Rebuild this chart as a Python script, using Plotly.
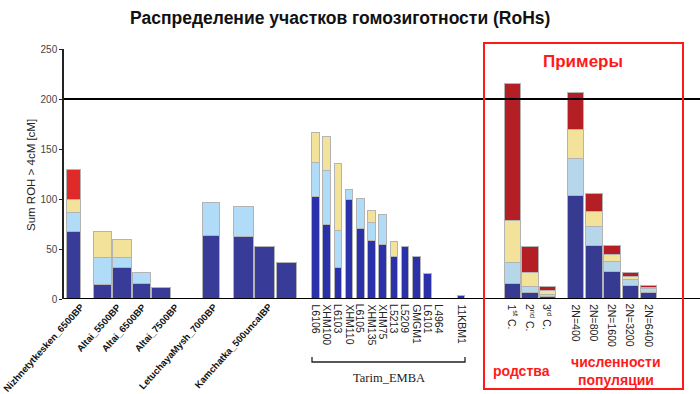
import plotly.graph_objects as go

# ---------------- data ----------------
left_names = ["Nizhnetytkesken_6500BP", "Altai_5500BP", "Altai_6500BP", "Altai_7500BP", "",
              "LetuchayaMysh_7000BP", "Kamchatka_500uncalBP", "", ""]
left_dark = [67, 14, 31, 15, 11, 63, 62, 52, 36]
left_light = [19, 27, 10, 11, 0, 33, 30, 0, 0]
left_yellow = [13, 26, 18, 0, 0, 0, 0, 0, 0]
left_red = [30, 0, 0, 0, 0, 0, 0, 0, 0]

tarim_names = ["L6106", "XHM100", "L6103", "XHM110", "L6105", "XHM135", "XHM75",
               "L5213", "L5209", "GMGM1", "L6101", "L4964", "11KBM1"]
tarim_dark = [102, 74, 31, 99, 70, 58, 54, 42, 52, 42, 25, 0, 3]
tarim_light = [34, 54, 37, 10, 30, 18, 30, 0, 0, 0, 0, 0, 0]
tarim_yellow = [30, 34, 67, 0, 0, 12, 0, 15, 0, 0, 0, 0, 0]

kin_names = ["1<sup>st</sup> C.", "2<sup>nd</sup> C.", "3<sup>rd</sup> C."]
kin_dark = [15, 6, 2]
kin_light = [21, 6, 2]
kin_yellow = [42, 14, 4]
kin_red = [137, 26, 4]

pop_names = ["2N=400", "2N=800", "2N=1600", "2N=3200", "2N=6400"]
pop_dark = [103, 53, 27, 13, 6]
pop_light = [37, 19, 10, 6, 4]
pop_yellow = [29, 15, 7, 3, 1]
pop_red = [37, 18, 9, 4, 2]

y_ticks = [0, 50, 100, 150, 200, 250]

# ---------------- layout helpers (x axis in pixel-like units 64..700) ----------------
X0, X1 = 64, 700
PT, PB = 49, 299  # plot top / bottom in px


def px_to_py(p):  # pixel y -> paper y
    return (PB - p) / (PB - PT)


def px_to_px(p):  # pixel x -> paper x
    return (p - X0) / (X1 - X0)


def slots(start, step, idx):
    return [start + step * i for i in idx]


left_x = slots(74, 0, [0]) + slots(103, 19.5, range(4)) + slots(211.5, 0, [0]) + slots(244, 21.3, range(3))
left_w = [14] + [18.5] * 4 + [17] + [20] * 3
tarim_x = slots(316, 11.2, list(range(12)) + [13])
tarim_w = [7.5] * len(tarim_x)
kin_x = slots(513, 17.5, range(3))
pop_x = slots(576, 18.3, range(5))
ex_w = [16.5] * 8

xs = left_x + tarim_x + kin_x + pop_x
ws = left_w + tarim_w + ex_w
nL, nT, nE = len(left_x), len(tarim_x), 8

dark = left_dark + tarim_dark + kin_dark + pop_dark
light = left_light + tarim_light + kin_light + pop_light
yellow = left_yellow + tarim_yellow + kin_yellow + pop_yellow
red = left_red + [0] * nT + kin_red + pop_red

dark_col = ["#383c98"] * nL + ["#2a31aa"] * nT + ["#363a90"] * nE
light_col = ["#b0dcf7"] * nL + ["#b0dcf7"] * nT + ["#b6d6e9"] * nE
yellow_col = ["#f3e39a"] * (nL + nT + nE)
red_col = ["#e02a2a"] * nL + ["#e02a2a"] * nT + ["#b31f25"] * nE


def nz(v):
    return [a if a else None for a in v]


fig = go.Figure()
for vals, cols in [(dark, dark_col), (light, light_col), (yellow, yellow_col), (red, red_col)]:
    fig.add_trace(go.Bar(x=xs, y=nz(vals), width=ws,
                         marker=dict(color=cols, line=dict(color="#b4b4b4", width=1)),
                         showlegend=False, hoverinfo="skip"))

shapes = []
# reference lines
for yv, lw in [(0, 2.2), (200, 2)]:
    shapes.append(dict(type="line", xref="paper", yref="y", x0=0, x1=1, y0=yv, y1=yv,
                       line=dict(color="black", width=lw)))
# Tarim bracket
bx0, bx1, by, byt = 312, 465, 362, 357
shapes.append(dict(type="path", xref="paper", yref="paper",
                   path=f"M {px_to_px(bx0)},{px_to_py(byt)} L {px_to_px(bx0)},{px_to_py(by)} "
                        f"L {px_to_px(bx1)},{px_to_py(by)} L {px_to_px(bx1)},{px_to_py(byt)}",
                   line=dict(color="#222", width=1.3)))
# red box
shapes.append(dict(type="rect", xref="paper", yref="paper",
                   x0=px_to_px(484), x1=px_to_px(683), y0=px_to_py(389), y1=px_to_py(43),
                   line=dict(color="#ff1a1a", width=2)))

ann = []


def txt(text, x, y, size, color="#222", family="Arial", angle=0, xa="center", ya="middle"):
    return dict(text=text, xref="paper", yref="paper", x=px_to_px(x), y=px_to_py(y),
                xanchor=xa, yanchor=ya, textangle=angle, showarrow=False,
                font=dict(family=family, size=size, color=color))


# left labels (diagonal)
left_label_end = [80, 117, 142, 175, None, 213, 268, None, None]
for name, xe in zip(left_names, left_label_end):
    if not name:
        continue
    ann.append(txt("<b>" + name + "</b>", xe + 9, 298, 9.5, color="#111", angle=-48,
                   xa="right", ya="top"))
# vertical labels
for name, x in zip(tarim_names + kin_names + pop_names, tarim_x + kin_x + pop_x):
    ann.append(txt(name, x, 302, 10.5, angle=90, ya="top"))
# group texts
ann += [
    txt("Tarim_EMBA", 389, 378, 12.5, family="Liberation Serif"),
    txt("<b>Примеры</b>", 583, 61, 17, color="#ff1a1a"),
    txt("<b>родства</b>", 521, 371, 14, color="#ff1a1a"),
    txt("<b>численности</b>", 616, 362, 14, color="#ff1a1a"),
    txt("<b>популяции</b>", 616, 380, 14, color="#ff1a1a"),
    txt("Sum ROH > 4cM [cM]", 31, 175, 11.5, angle=-90),
    txt("<b>Распределение участков гомозиготности (RoHs)</b>", 340, 18, 17.5, color="#111"),
]

fig.update_layout(
    width=700, height=394, barmode="stack", bargap=0,
    margin=dict(l=X0, r=700 - X1, t=PT, b=394 - PB, pad=0),
    paper_bgcolor="white", plot_bgcolor="white",
    xaxis=dict(range=[X0, X1], showgrid=False, zeroline=False, showticklabels=False,
               ticks="", showline=False, fixedrange=True),
    yaxis=dict(range=[0, 250], tickvals=y_ticks, showgrid=False, zeroline=False,
               showline=True, linecolor="#222", linewidth=1.5, ticks="outside", ticklen=3,
               tickcolor="#222", tickfont=dict(family="Arial", size=10, color="#444")),
    shapes=shapes, annotations=ann,
)

fig.write_html("out.html", config={"displayModeBar": False},
               post_script="document.body.style.margin='0';document.body.style.overflow='hidden';")
